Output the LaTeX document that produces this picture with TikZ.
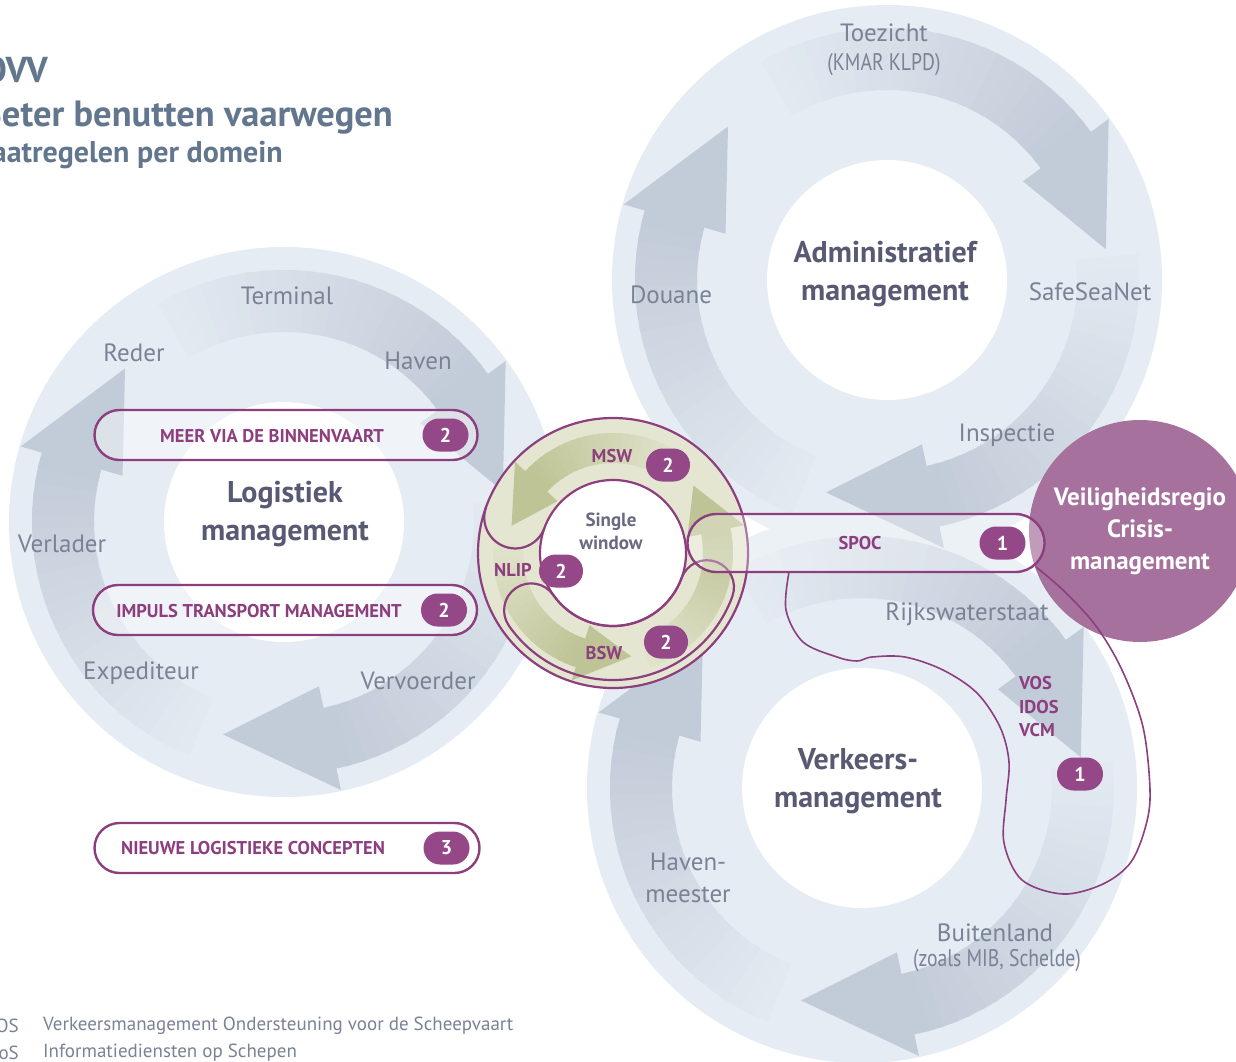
\documentclass[tikz,border=0pt]{standalone}
\usepackage{fontspec}
\setmainfont{PT Sans}
\newfontfamily\narrowfont[FakeStretch=0.82]{PT Sans}
\usetikzlibrary{calc,positioning,shapes.misc}

\definecolor{ringpale}{RGB}{229,236,243}
\definecolor{arrowgray}{RGB}{194,203,216}
\definecolor{labelgray}{RGB}{122,130,150}
\definecolor{domaintext}{RGB}{88,90,115}
\definecolor{titleblue}{RGB}{98,118,142}
\definecolor{plum}{RGB}{140,62,126}
\definecolor{badgeplum}{RGB}{148,72,136}
\definecolor{crisisplum}{RGB}{166,113,157}
\definecolor{swpale}{RGB}{228,230,209}
\definecolor{swarrow}{RGB}{190,196,150}
\definecolor{swtext}{RGB}{105,105,130}

% curved arrow on a ring, fading towards its tail:
% colour, fade colour, centre, tail, head base, tip, r in, r out, overhang
\newcommand\ringarrow[9]{%
  \begin{scope}[shift={(#3)}]
  \foreach \k in {0,...,23}{
    \pgfmathsetmacro\segstart{#4+(#5-#4)*\k/24}
    \pgfmathsetmacro\segend{#4+(#5-#4)*min(\k+1.4,24.2)/24}
    \pgfmathtruncatemacro\mixpct{5+95*(\k+1)/24}
    \fill[#1!\mixpct!#2] plot[domain=\segstart:\segend, samples=5] (\x:{#8})
      -- plot[domain=\segend:\segstart, samples=5] (\x:{#7}) -- cycle;
  }
  \fill[#1] ({#5}:{#8}) -- ({#5}:{#8+#9}) -- ({#6}:{(#7+#8)/2}) -- ({#5}:{#7-#9}) -- ({#5}:{#7}) -- cycle;
  \end{scope}}

\tikzset{
  lbl/.style={text=labelgray, font=\fontsize{25}{32}\selectfont, align=center, inner sep=0pt},
  narrowlbl/.style={text=labelgray, font=\narrowfont\fontsize{24}{28}\selectfont, inner sep=0pt},
  domaintitle/.style={text=domaintext, font=\bfseries\fontsize{30}{38}\selectfont, align=center, inner sep=0pt},
  mbox/.style={rounded rectangle, draw=plum, line width=2.4pt, fill=white, fill opacity=.45,
    minimum height=50pt, inner sep=0pt},
  boxtext/.style={text=plum, font=\bfseries\fontsize{18.5}{23.5}\selectfont, inner sep=0pt},
  badge/.style={rounded rectangle, fill=badgeplum, text=white, font=\bfseries\fontsize{20}{20}\selectfont,
    minimum width=46pt, minimum height=33pt, inner sep=0pt},
  plumline/.style={draw=plum, line width=2.2pt},
  plumthin/.style={draw=plum, line width=1.6pt},
  legend/.style={text=labelgray, font=\fontsize{19}{22}\selectfont, inner sep=0pt},
  heading/.style={anchor=east, text=titleblue, inner sep=0pt}
}

\begin{document}
\begin{tikzpicture}[x=1pt, y=-1pt]
\path[use as bounding box, fill=white] (0,0) rectangle (1236,1062);
\clip (0,0) rectangle (1236,1062);

\coordinate (logc) at (284,522);
\coordinate (admc) at (887,280);
\coordinate (verc) at (862,788);
\coordinate (swc) at (613,553);

% the three domains
\foreach \c in {logc,admc,verc}
  \fill[ringpale] (\c) circle[radius=275];
\foreach \c in {logc,admc,verc}
  \foreach \tip in {352,106,224}{
    \pgfmathsetmacro\tailang{\tip-112}
    \pgfmathsetmacro\baseang{\tip-28}
    \ringarrow{arrowgray}{ringpale}{\c}{\tailang}{\baseang}{\tip}{190}{252}{22}
  }
\foreach \c in {logc,admc,verc}
  \fill[white] (\c) circle[radius=120];

\node[domaintitle] (logistiek) at (285,514) {Logistiek\\management};
\node[domaintitle] (admin) at (885,274) {Administratief\\management};
\node[domaintitle] (verkeer) at (858,781) {Verkeers-\\management};

\node[lbl] (terminal) at (287,296) {Terminal};
\node[lbl] (reder) at (134,353) {Reder};
\node[lbl] (haven) at (418,361) {Haven};
\node[lbl] (verlader) at (62,544) {Verlader};
\node[lbl] (expediteur) at (141,673) {Expediteur};
\node[lbl] (vervoerder) at (418,681) {Vervoerder};

\node[lbl] (toezicht) at (884,33) {Toezicht};
\node[narrowlbl] (kmar) at (884,65) {(KMAR KLPD)};
\node[lbl] (douane) at (671,295) {Douane};
\node[lbl] (safesea) at (1090,292) {SafeSeaNet};
\node[lbl] (inspectie) at (1007,435) {Inspectie};

\node[lbl] (rws) at (967,614) {Rijkswaterstaat};
\node[lbl] (havenm) at (688,878) {Haven-\\meester};
\node[lbl] (buitenland) at (995,933) {Buitenland};
\node[narrowlbl] (mib) at (997,961) {(zoals MIB, Schelde)};

% crisis management
\node[circle, fill=crisisplum, minimum size=222pt, text=white, align=center,
  font=\bfseries\fontsize{25}{32}\selectfont] (crisis) at (1140,531) {Veiligheidsregio\\Crisis-\\management};

% single window ring
\fill[swpale] (swc) circle[radius=135];
\fill[white] (swc) circle[radius=73];
\ringarrow{swarrow}{swpale}{swc}{305}{223}{195}{90}{120}{14}
\ringarrow{swarrow}{swpale}{swc}{72}{-12}{-40}{90}{120}{14}
\ringarrow{swarrow}{swpale}{swc}{185}{108}{80}{90}{120}{14}
\draw[plumline] (swc) circle[radius=135];
\draw[plumline] (swc) circle[radius=73];
\draw[plumline] ($(swc)+(200:135)$) arc[start angle=200, end angle=20, radius=31];
\draw[plumline] ($(swc)+(145:127)$) arc[start angle=145, end angle=20, radius=127]
  arc[start angle=20, end angle=-160, radius=27] arc[start angle=20, end angle=145, radius=73]
  arc[start angle=325, end angle=145, radius=27] -- cycle;
\node[text=swtext, font=\bfseries\fontsize{19}{23}\selectfont, align=center, inner sep=0pt] (single) at (611,531) {Single\\window};
\node[boxtext] (msw) at (612,456) {MSW};
\node[badge, minimum width=44pt] (mswnr) at (668,465) {2};
\node[boxtext] (nlip) at (513,570) {NLIP};
\node[badge, minimum width=44pt] (nlipnr) at (561,571) {2};
\node[boxtext] (bsw) at (604,653) {BSW};
\node[badge, minimum width=44pt] (bswnr) at (666,642) {2};

% SPOC and traffic measures
\node[mbox, minimum width=357pt, minimum height=58pt, fill opacity=.3] (spoc) at (866,543) {};
\node[boxtext] (spoctxt) at (860,543) {SPOC};
\node[badge, anchor=east] (spocnr) at ([xshift=-20pt]spoc.east) {1};
\draw[plumthin] plot[smooth, tension=.55] coordinates {(789,572) (786,610) (803,642) (837,657)
  (857,661) (872,657) (905,657) (943,670) (977,693) (1000,727) (1009,762) (1006,800) (1004,843)
  (1022,880) (1063,894) (1103,884) (1131,862) (1146,825) (1150,790) (1143,727) (1122,670)
  (1096,626) (1064,591) (1036,567)};
\node[boxtext, align=left, anchor=west] (vos) at (1019,707) {VOS\\IDOS\\VCM};
\node[badge] (vosnr) at (1080,774) {1};

% logistic measures
\node[mbox, minimum width=383pt] (binnenvaart) at (286,435) {};
\node[boxtext] (binnenvaarttxt) at (272,436) {MEER VIA DE BINNENVAART};
\node[badge, anchor=east] (binnenvaartnr) at ([xshift=-10pt]binnenvaart.east) {2};
\node[mbox, minimum width=384pt] (impuls) at (285,610) {};
\node[boxtext] (impulstxt) at (259,611) {IMPULS TRANSPORT MANAGEMENT};
\node[badge, anchor=east] (impulsnr) at ([xshift=-11pt]impuls.east) {2};
\node[mbox, minimum width=385pt, fill opacity=1] (concepten) at (287,848) {};
\node[boxtext] (conceptentxt) at (253,848) {NIEUWE LOGISTIEKE CONCEPTEN};
\node[badge, anchor=east] (conceptennr) at ([xshift=-11pt]concepten.east) {3};

% title
\node[heading, font=\bfseries\fontsize{36}{36}\selectfont] (org) at (48,70) {OVV};
\node[heading, font=\bfseries\fontsize{36.5}{36}\selectfont] (title) at (393,117) {Beter benutten vaarwegen};
\node[heading, font=\bfseries\fontsize{30}{30}\selectfont] (subtitle) at (283,155) {Maatregelen per domein};

% legend
\node[legend, anchor=east] (vosabbr) at (19,1026) {VOS};
\node[legend, anchor=west] (vosdesc) at (43,1026) {Verkeersmanagement Ondersteuning voor de Scheepvaart};
\node[legend, anchor=east] (idosabbr) at (19,1053) {IDoS};
\node[legend, anchor=west] (idosdesc) at (43,1053) {Informatiediensten op Schepen};
\end{tikzpicture}
\end{document}
